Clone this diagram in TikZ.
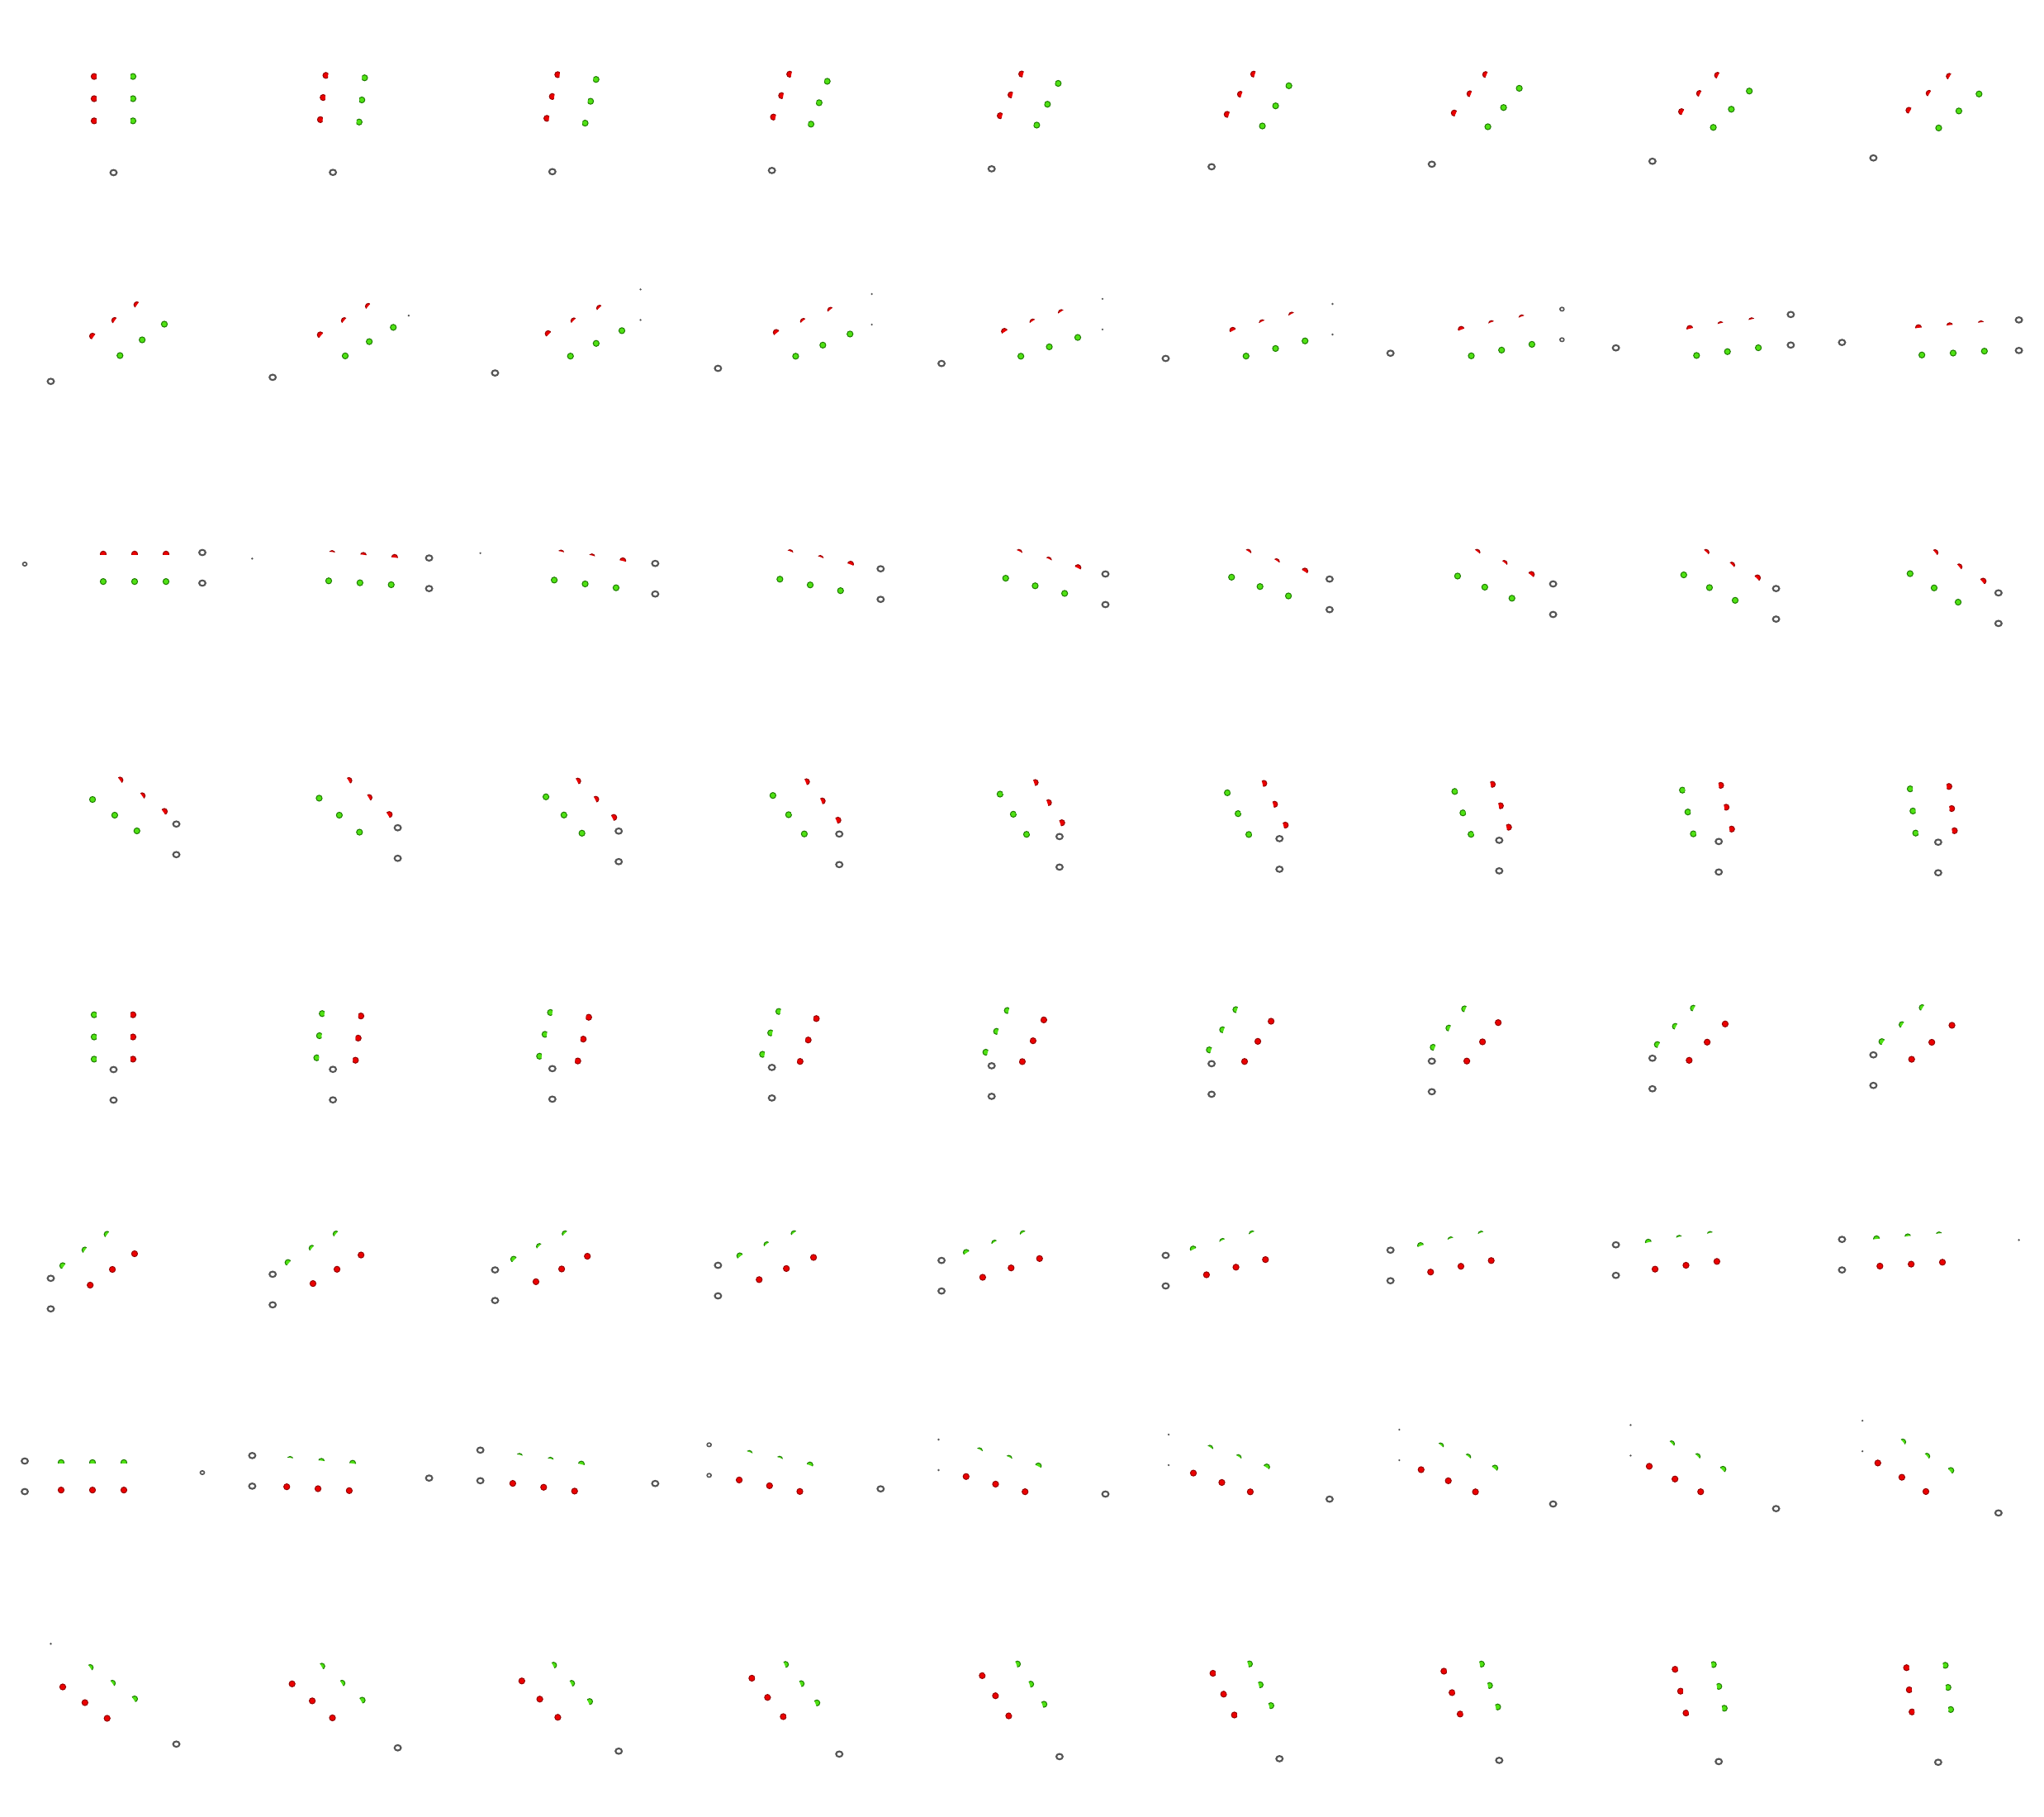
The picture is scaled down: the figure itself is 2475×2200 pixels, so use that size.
\documentclass[tikz,border=0pt]{standalone}
\definecolor{redfill}{RGB}{236,0,0}
\definecolor{rededge}{RGB}{150,0,0}
\definecolor{greenfill}{RGB}{80,225,20}
\definecolor{greenedge}{RGB}{30,125,0}
\definecolor{ringgray}{RGB}{85,85,85}
\tikzset{
  reddot/.style={fill=redfill, draw=rededge, line width=0.2mm},
  greendot/.style={fill=greenfill, draw=greenedge, line width=0.2mm},
  ringnorm/.style={draw=ringgray, line width=0.42mm},
  ringsmall/.style={draw=ringgray, line width=0.32mm},
  ringtiny/.style={fill=ringgray},
}
% ball at plane coords (u,v), style, sign (+1 red, -1 green)
\newcommand{\drawball}[4]{%
  \pgfmathsetmacro{\QBx}{\Cx + (#1)*\Ct - (#2)*\St}%
  \pgfmathsetmacro{\QBy}{\Cy + 0.7071*((#1)*\St + (#2)*\Ct)}%
  \pgfmathsetmacro{\QBL}{sqrt(\Ct*\Ct + 0.5*\St*\St)}%
  \pgfmathsetmacro{\QNx}{(#4)*\Ct/\QBL}%
  \pgfmathsetmacro{\QNy}{(#4)*0.7071*\St/\QBL}%
  \pgfmathsetmacro{\QDy}{0.7071*(max(\Ct*12.5, -63.5*\Ct) - \Ct*(#2))}%
  \pgfmathsetmacro{\QSf}{3.6*(0.8 - 0.75*\QNy - 0.6*max(0,\QNy)*min(1,\QDy/5))}%
  \pgfmathsetmacro{\QPax}{\QBx+\QSf*\QNx-12*\QNy}%
  \pgfmathsetmacro{\QPay}{\QBy+\QSf*\QNy+12*\QNx}%
  \pgfmathsetmacro{\QPbx}{\QBx+\QSf*\QNx+12*\QNy}%
  \pgfmathsetmacro{\QPby}{\QBy+\QSf*\QNy-12*\QNx}%
  \pgfmathsetmacro{\QPcx}{\QBx-12*\QNx+12*\QNy}%
  \pgfmathsetmacro{\QPcy}{\QBy-12*\QNy-12*\QNx}%
  \pgfmathsetmacro{\QPdx}{\QBx-12*\QNx-12*\QNy}%
  \pgfmathsetmacro{\QPdy}{\QBy-12*\QNy+12*\QNx}%
  \begin{scope}
    \clip (\QPax,\QPay) -- (\QPbx,\QPby) -- (\QPcx,\QPcy) -- (\QPdx,\QPdy) -- cycle;
    \path[#3] (\QBx,\QBy) circle[radius=3.6];
  \end{scope}%
}
\newcommand{\drawring}[3]{%
  \ifcase#3\relax
  \or \draw[ringsmall] (#1,#2) ellipse[x radius=2.5,y radius=2.2];
  \or \draw[ringnorm] (#1,#2) ellipse[x radius=3.9,y radius=3.3];
  \or \fill[ringtiny] (#1,#2) circle[radius=1.3];
  \fi
}
\begin{document}
\begin{tikzpicture}[x=0.2mm,y=-0.2mm]
\useasboundingbox (0,0) rectangle (2475,2200);
\fill[white] (0,0) rectangle (2475,2200);
\foreach \k in {0,...,71}{
  \pgfmathtruncatemacro{\Col}{mod(\k,9)}
  \pgfmathtruncatemacro{\Row}{floor(\k/9)}
  \pgfmathsetmacro{\Cx}{275*\Col+137.5}
  \pgfmathsetmacro{\Cy}{275*\Row+137.5}
  \pgfmathsetmacro{\Ct}{cos(5*\k)}
  \pgfmathsetmacro{\St}{sin(5*\k)}
  % rings
  \pgfmathsetmacro{\RAx}{\Cx-107.5*\St}
  \pgfmathsetmacro{\RAy}{\Cy+76.01*\Ct-4.5}
  \pgfmathsetmacro{\RBx}{\Cx+107.5*\St}
  \pgfmathsetmacro{\RBpy}{\Cy-76.01*\Ct-18.5}
  \pgfmathsetmacro{\RBmy}{\Cy-76.01*\Ct+18.5}
  \pgfmathtruncatemacro{\Acode}{ifthenelse(or(\k<18,\k>54),2,ifthenelse(or(\k==18,\k==54),1,ifthenelse(or(or(\k==19,\k==20),\k==53),3,0)))}
  \pgfmathtruncatemacro{\Bmcode}{ifthenelse(and(\k>15,\k<57),2,ifthenelse(or(\k==15,\k==57),1,ifthenelse(or(and(\k>9,\k<15),and(\k>57,\k<63)),3,0)))}
  \pgfmathtruncatemacro{\Bpcode}{ifthenelse(and(\k>15,\k<57),2,ifthenelse(or(\k==15,\k==57),1,ifthenelse(or(and(\k>10,\k<15),and(\k>57,\k<64)),3,0)))}
  \drawring{\RAx}{\RAy}{\Acode}
  \drawring{\RBx}{\RBpy}{\Bpcode}
  \drawring{\RBx}{\RBmy}{\Bmcode}
  \foreach \v in {-63.5,-25.5,12.5}{
    \drawball{-23.5}{\v}{reddot}{1}
    \drawball{23.5}{\v}{greendot}{-1}
  }
}
\end{tikzpicture}
\end{document}
